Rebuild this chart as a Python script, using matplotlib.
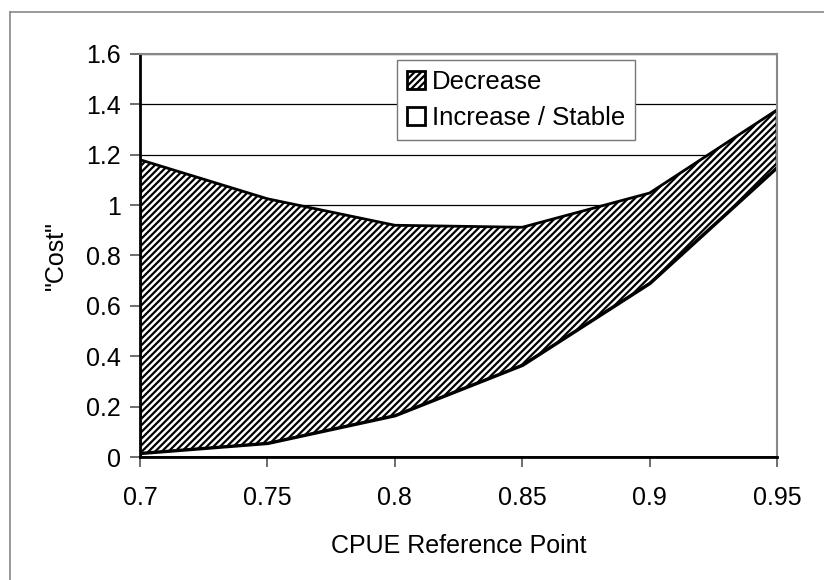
import matplotlib.pyplot as plt
from matplotlib.lines import Line2D

plt.rcParams['font.family'] = ['Liberation Sans', 'DejaVu Sans']
plt.rcParams['hatch.linewidth'] = 1.6

# CPUE reference points and the two curve boundaries
cpue = [0.7, 0.75, 0.8, 0.85, 0.9, 0.95]
increase_stable = [0.015, 0.055, 0.165, 0.365, 0.69, 1.15]
decrease_top = [1.18, 1.025, 0.92, 0.912, 1.048, 1.378]
yticks = [0, 0.2, 0.4, 0.6, 0.8, 1, 1.2, 1.4, 1.6]
ytick_labels = ['0', '0.2', '0.4', '0.6', '0.8', '1', '1.2', '1.4', '1.6']
xtick_labels = ['0.7', '0.75', '0.8', '0.85', '0.9', '0.95']

fig = plt.figure(figsize=(8.24, 5.8), dpi=100)
ax = fig.add_axes([0.170, 0.212, 0.773, 0.695])

# grid behind the areas
for y in yticks[1:]:
    ax.axhline(y, color='black', lw=0.9, zorder=0)

ax.fill_between(cpue, increase_stable, decrease_top, facecolor='white',
                hatch='/////', edgecolor='black', linewidth=2, zorder=2,
                label='Decrease')
ax.fill_between(cpue, 0, increase_stable, facecolor='white',
                edgecolor='black', linewidth=2, zorder=3,
                label='Increase / Stable')

ax.set_xlim(0.7, 0.95)
ax.set_ylim(0, 1.6)
ax.set_xticks(cpue)
ax.set_xticklabels(xtick_labels)
ax.set_yticks(yticks)
ax.set_yticklabels(ytick_labels)
ax.tick_params(direction='out', length=7, width=1.2, color='#555555')
ax.tick_params(axis='y', labelsize=18, pad=7)
ax.tick_params(axis='x', labelsize=18, pad=14)

for side in ['top', 'right']:
    ax.spines[side].set_color('#888888')
    ax.spines[side].set_linewidth(1.5)
for side in ['left', 'bottom']:
    ax.spines[side].set_color('black')
    ax.spines[side].set_linewidth(2)
for s in ax.spines.values():
    s.set_zorder(5)

ax.set_xlabel('CPUE Reference Point', fontsize=18, labelpad=17)
ax.set_ylabel('"Cost"', fontsize=18, labelpad=13)

leg = ax.legend(loc='upper left', bbox_to_anchor=(397 / 824, 1 - 60 / 580),
                bbox_transform=fig.transFigure, borderaxespad=0,
                fontsize=18.5, fancybox=False, framealpha=1,
                handlelength=0.7, handleheight=0.7, handletextpad=0.25,
                borderpad=0.4, labelspacing=0.45)
leg.get_frame().set_edgecolor('#777777')
leg.get_frame().set_linewidth(1)
leg.set_zorder(6)

# outer chart border (cropped on right and bottom)
fig.add_artist(Line2D([10 / 824, 1], [1 - 12 / 580, 1 - 12 / 580],
                      transform=fig.transFigure, color='#888888', lw=1.2))
fig.add_artist(Line2D([10 / 824, 10 / 824], [0, 1 - 12 / 580],
                      transform=fig.transFigure, color='#888888', lw=1.2))

fig.savefig('out.png', dpi=100)
